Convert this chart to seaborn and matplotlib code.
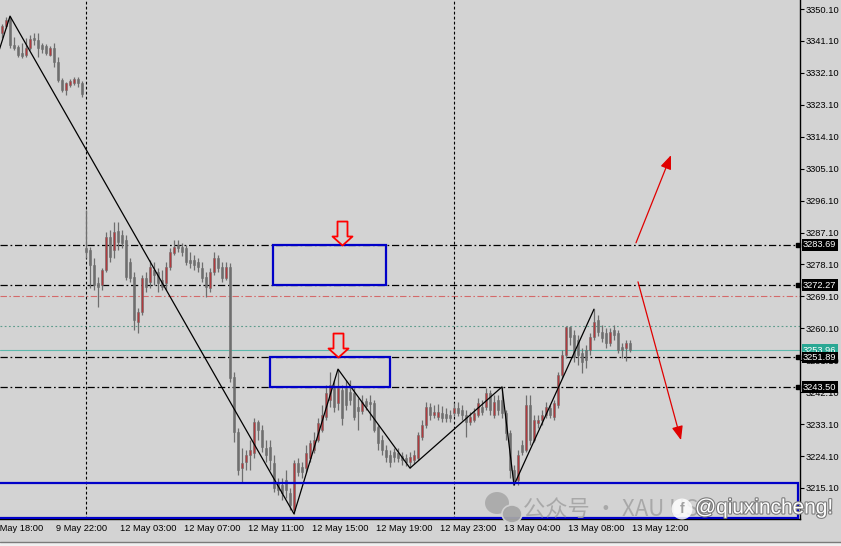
import numpy as np
import pandas as pd
import seaborn as sns
import matplotlib.pyplot as plt
import matplotlib.transforms as mtransforms
import matplotlib.patheffects as pe
from matplotlib.path import Path
from matplotlib.patches import Rectangle, Ellipse
from matplotlib.lines import Line2D

# XAUUSD M15 candles, 9 May 18:45 .. 13 May 12:00 (bars 0-20 are Friday, 21+ after the weekend gap)
opens = [3343.3, 3345.3, 3347.6, 3340.0, 3339.4, 3337.7, 3337.1, 3339.1, 3341.9, 3341.4,
         3340.0, 3339.7, 3337.1, 3339.1, 3335.2, 3330.1, 3327.3, 3328.7, 3329.2, 3330.4,
         3329.2,
         3282.7, 3282.2, 3278.0, 3272.9, 3272.3, 3276.5, 3285.8, 3282.2, 3287.5,
         3286.4, 3285.0, 3278.8, 3274.6, 3261.9, 3264.7, 3274.3, 3273.2, 3276.5, 3276.0,
         3273.7, 3272.9, 3277.4, 3281.3, 3283.5, 3283.0, 3282.7, 3279.4, 3279.4, 3278.8,
         3277.1, 3274.6, 3271.5, 3276.0, 3279.9, 3277.4, 3274.3, 3277.4, 3246.4, 3230.9,
         3220.7, 3222.4, 3224.4, 3225.0, 3233.7, 3231.5, 3226.4, 3226.7, 3222.1, 3216.5,
         3215.9, 3217.4, 3213.7, 3208.9, 3222.1, 3221.0, 3220.7, 3223.6, 3225.8, 3228.6,
         3231.5, 3235.1, 3239.9, 3243.3, 3239.1, 3242.7, 3243.3, 3242.2, 3241.9, 3237.9,
         3236.8, 3239.6, 3239.3, 3239.1, 3232.3, 3228.6, 3225.8, 3224.4, 3225.2, 3225.0,
         3224.1, 3223.6, 3222.4, 3223.0, 3223.6, 3229.5, 3232.9, 3237.9, 3235.7, 3235.1,
         3236.2, 3236.0, 3235.7, 3236.2, 3237.6, 3237.1, 3235.7, 3233.7, 3234.3, 3235.7,
         3237.9, 3237.9, 3241.9, 3235.7, 3239.9, 3239.9, 3236.2, 3230.6, 3220.2, 3217.4,
         3227.2, 3225.8, 3238.5, 3228.6, 3233.4, 3234.3, 3235.7, 3237.6, 3235.1, 3238.5,
         3246.9, 3252.6, 3260.5, 3258.2, 3256.8, 3253.1, 3254.0, 3254.0, 3257.6, 3262.5,
         3259.1, 3258.8, 3256.0, 3259.6, 3258.8, 3254.8, 3254.6, 3256.0]
highs = [3345.9, 3347.9, 3348.1, 3342.2, 3340.0, 3340.5, 3341.9, 3342.8, 3343.3, 3343.3,
         3340.5, 3340.2, 3339.7, 3340.5, 3336.6, 3330.6, 3329.5, 3330.4, 3330.9, 3330.9,
         3329.8,
         3293.5, 3283.0, 3279.9, 3274.6, 3277.1, 3287.3, 3287.8, 3290.1, 3290.1,
         3287.8, 3286.4, 3279.9, 3276.0, 3265.8, 3275.2, 3276.0, 3279.4, 3278.8, 3277.1,
         3276.5, 3278.8, 3282.7, 3285.0, 3285.0, 3284.2, 3283.5, 3281.6, 3280.8, 3279.9,
         3278.8, 3276.0, 3277.1, 3281.6, 3280.8, 3278.8, 3278.8, 3278.5, 3247.8, 3232.0,
         3226.4, 3225.8, 3228.6, 3234.8, 3234.3, 3232.9, 3228.6, 3228.6, 3224.4, 3217.9,
         3217.9, 3220.2, 3215.1, 3223.0, 3223.6, 3222.4, 3227.2, 3228.6, 3230.9, 3234.8,
         3238.4, 3244.1, 3247.8, 3245.5, 3248.6, 3244.1, 3245.5, 3245.5, 3243.3, 3240.5,
         3241.3, 3240.5, 3241.3, 3239.9, 3232.9, 3230.0, 3227.2, 3225.8, 3226.4, 3226.4,
         3225.2, 3224.7, 3225.2, 3225.8, 3230.9, 3234.3, 3239.3, 3239.1, 3238.5, 3238.8,
         3238.2, 3237.6, 3237.1, 3239.1, 3239.3, 3238.5, 3237.1, 3236.5, 3237.6, 3240.5,
         3239.9, 3243.3, 3242.7, 3241.3, 3241.3, 3243.6, 3237.1, 3231.5, 3221.6, 3225.8,
         3228.6, 3241.3, 3241.3, 3235.7, 3235.7, 3237.1, 3239.3, 3238.5, 3239.9, 3247.8,
         3254.0, 3260.8, 3260.8, 3259.6, 3258.2, 3254.6, 3255.4, 3258.8, 3265.5, 3263.9,
         3261.0, 3260.2, 3260.2, 3261.0, 3259.6, 3255.9, 3256.8, 3256.8]
lows = [3341.9, 3344.7, 3339.1, 3338.5, 3336.6, 3336.3, 3336.6, 3338.5, 3340.0, 3336.6,
        3337.7, 3337.1, 3336.9, 3333.8, 3329.5, 3326.7, 3325.9, 3328.1, 3328.7, 3328.1,
        3325.3,
        3279.9, 3271.5, 3270.9, 3266.1, 3270.9, 3276.0, 3278.8, 3279.9, 3282.2,
        3282.7, 3273.7, 3273.2, 3259.6, 3258.8, 3263.9, 3270.3, 3271.5, 3272.3, 3270.3,
        3270.9, 3270.9, 3276.5, 3280.8, 3281.6, 3280.5, 3278.0, 3277.1, 3276.5, 3276.0,
        3273.2, 3268.9, 3270.3, 3275.2, 3276.0, 3273.2, 3273.7, 3245.0, 3228.1, 3218.8,
        3216.5, 3220.2, 3220.2, 3223.6, 3228.6, 3225.2, 3222.4, 3220.2, 3214.0, 3213.1,
        3211.7, 3212.3, 3208.9, 3207.8, 3218.5, 3217.9, 3219.6, 3222.4, 3225.0, 3228.1,
        3230.9, 3234.3, 3237.9, 3236.5, 3237.1, 3232.9, 3237.1, 3238.5, 3234.3, 3231.5,
        3235.9, 3237.1, 3234.3, 3230.9, 3225.8, 3224.4, 3222.4, 3221.0, 3222.4, 3222.4,
        3221.6, 3221.3, 3220.7, 3221.9, 3223.0, 3228.6, 3232.0, 3234.3, 3234.8, 3234.3,
        3233.7, 3233.7, 3233.7, 3235.4, 3235.4, 3234.3, 3229.5, 3232.9, 3233.7, 3235.1,
        3235.7, 3237.1, 3235.7, 3234.8, 3235.7, 3234.8, 3228.6, 3217.9, 3215.9, 3215.9,
        3224.4, 3225.2, 3227.2, 3228.1, 3232.0, 3232.9, 3234.8, 3234.8, 3234.3, 3237.6,
        3246.1, 3251.7, 3255.4, 3250.6, 3249.8, 3247.5, 3248.9, 3252.6, 3256.8, 3257.9,
        3256.2, 3254.6, 3255.1, 3256.8, 3253.1, 3251.7, 3250.9, 3253.4]
closes = [3345.3, 3347.0, 3340.0, 3339.1, 3337.1, 3336.9, 3339.1, 3341.6, 3341.4, 3339.1,
          3338.8, 3337.7, 3339.1, 3335.2, 3330.1, 3327.3, 3329.2, 3329.8, 3330.4, 3329.2,
          3326.1,
          3281.6, 3278.0, 3272.3, 3271.8, 3276.5, 3285.8, 3280.2, 3287.3, 3284.4,
          3284.2, 3274.6, 3274.3, 3262.5, 3264.7, 3274.3, 3271.8, 3277.4, 3275.2, 3272.9,
          3271.8, 3277.4, 3281.6, 3283.0, 3282.7, 3281.6, 3278.8, 3278.5, 3278.0, 3277.4,
          3274.3, 3271.8, 3276.0, 3279.9, 3277.1, 3274.3, 3277.4, 3246.1, 3230.9, 3220.2,
          3222.1, 3224.4, 3225.8, 3233.7, 3231.5, 3226.7, 3224.4, 3223.0, 3215.1, 3214.5,
          3213.7, 3214.5, 3210.3, 3222.1, 3219.6, 3219.6, 3225.0, 3227.8, 3228.6, 3233.4,
          3235.7, 3241.9, 3244.1, 3237.9, 3243.3, 3234.8, 3238.5, 3239.9, 3235.1, 3236.8,
          3239.3, 3238.2, 3238.8, 3231.5, 3227.8, 3225.8, 3223.9, 3222.4, 3223.9, 3223.6,
          3223.0, 3222.4, 3223.9, 3224.4, 3230.0, 3232.9, 3237.9, 3235.7, 3236.5, 3236.5,
          3234.8, 3234.8, 3234.8, 3237.6, 3236.2, 3235.7, 3233.7, 3235.1, 3236.2, 3239.1,
          3236.5, 3241.9, 3237.1, 3239.3, 3237.1, 3236.2, 3230.6, 3220.2, 3216.8, 3224.4,
          3225.2, 3238.5, 3228.6, 3234.3, 3234.3, 3235.7, 3237.9, 3235.7, 3239.1, 3246.9,
          3252.6, 3260.5, 3257.6, 3252.0, 3252.6, 3250.6, 3251.2, 3257.6, 3261.9, 3259.1,
          3257.4, 3256.0, 3259.1, 3258.2, 3254.0, 3254.0, 3256.0, 3253.96]

# time axis
tick_bars = [-3, 13, 29, 45, 61, 77, 93, 109, 125, 141, 157]
tick_labels = ['9 May 18:00', '9 May 22:00', '12 May 03:00', '12 May 07:00', '12 May 11:00',
               '12 May 15:00', '12 May 19:00', '12 May 23:00', '13 May 04:00', '13 May 08:00',
               '13 May 12:00']
separator_bars = [21, 113]

price_ticks = [3350.10, 3341.10, 3332.10, 3323.10, 3314.10, 3305.10, 3296.10, 3287.10,
               3278.10, 3269.10, 3260.10, 3251.10, 3242.10, 3233.10, 3224.10, 3215.10]

# drawn objects
level_prices = [3283.69, 3272.27, 3251.89, 3243.50]
red_level = 3269.3
green_level = 3260.8
bid_price = 3253.96

zigzag_bars = [-2, 2, 73, 84, 102, 125, 128, 148]
zigzag_prices = [3333.9, highs[2], lows[73], highs[84], lows[102], highs[125], lows[128], highs[148]]

zones = [(67.75, 96.0, 3272.27, 3283.69), (67.0, 97.0, 3243.50, 3251.89)]
support_zone = (-10.0, 199.0, 3206.6, 3216.5)

signal_bars = [85, 84]
signal_prices = [3283.69, 3251.89]

projections = [((158.5, 3284.2), (167.25, 3308.9)), ((159.0, 3273.2), (169.75, 3228.6))]

bars = pd.DataFrame({'open': opens, 'high': highs, 'low': lows, 'close': closes})
bars['bar'] = np.arange(len(bars))

bg = '#d3d3d3'
sns.set_style('white', rc={'axes.facecolor': bg, 'figure.facecolor': bg})
plt.rcParams['font.family'] = ['Liberation Sans', 'DejaVu Sans']

fig = plt.figure(figsize=(8.41, 5.46), dpi=100)
ax = fig.add_axes([0, 27 / 546, 799.5 / 841, 519 / 546])
ax.set_xlim(-0.5, 199.375)
ax.set_ylim(3206.36, 3352.64)

dashdot = (0, (5.8, 2.2, 1.4, 2.2))
for p in level_prices:
    ax.axhline(p, color='black', lw=0.9, ls=dashdot, zorder=2)
ax.axhline(red_level, color='#d46a6a', lw=0.8, ls=dashdot, zorder=2)
ax.axhline(green_level, color='#5d9c8c', lw=0.8, ls=(0, (1.6, 2.2)), zorder=2)
ax.axhline(bid_price, color='#5cb8ac', lw=0.8, zorder=2)
for b in separator_bars:
    ax.axvline(b, color='black', lw=0.8, ls=(0, (2.5, 2.0)), zorder=2)

# candles
wick = '#6e6e6e'
up = bars['close'] >= bars['open']
body_lo = np.minimum(bars['open'], bars['close'])
body_h = np.maximum((bars['close'] - bars['open']).abs(), 0.3)
ax.vlines(bars['bar'], bars['low'], bars['high'], color=wick, lw=0.9, zorder=3)
ax.bar(bars['bar'], body_h, bottom=body_lo, width=0.72,
       color=np.where(up, '#b23a3e', wick), edgecolor=wick, linewidth=0.4, zorder=4)

# zigzag
sns.lineplot(x=zigzag_bars, y=zigzag_prices, sort=False, estimator=None,
             color='black', lw=0.9, ax=ax, zorder=5)

blue = '#0000c8'
for x0, x1, p0, p1 in zones:
    ax.add_patch(Rectangle((x0, p0), x1 - x0, p1 - p0, fill=False, ec=blue, lw=1.6, zorder=6))
x0, x1, p0, p1 = support_zone
ax.add_patch(Rectangle((x0, p0), x1 - x0, p1 - p0, fill=False, ec=blue, lw=1.6, zorder=6))

# hollow down arrows, tip at the anchor
arrow_path = Path([(0, 0), (10, 9), (5, 9), (5, 24), (-5, 24), (-5, 9), (-10, 9), (0, 0)],
                  [Path.MOVETO] + [Path.LINETO] * 6 + [Path.CLOSEPOLY])
ax.plot(signal_bars, signal_prices, ls='none', marker=arrow_path, ms=34.5,
        mfc=bg, mec='#ff0000', mew=1.3, zorder=7)

for start, end in projections:
    ax.annotate('', xy=end, xytext=start,
                arrowprops=dict(arrowstyle='-|>,head_length=0.7,head_width=0.28',
                                color='#e00000', lw=0.9, shrinkA=0, shrinkB=0,
                                mutation_scale=12), zorder=7)

# axes frame and ticks
for s in ['top', 'left']:
    ax.spines[s].set_visible(False)
for s in ['right', 'bottom']:
    ax.spines[s].set_color('black')
    ax.spines[s].set_linewidth(1.0)
ax.yaxis.tick_right()
ax.set_yticks(price_ticks)
ax.set_yticklabels([f'{p:.2f}' for p in price_ticks])
ax.tick_params(axis='y', length=3, width=0.8, pad=1.2, labelsize=6.7, colors='black')
ax.set_xticks(tick_bars[1:])
ax.set_xticklabels([])
ax.tick_params(axis='x', length=3, width=0.8, colors='black')

xtrans = mtransforms.blended_transform_factory(ax.transData, ax.transAxes)
for b, lab in zip(tick_bars, tick_labels):
    ax.text(b + 0.5, -0.0175, lab, transform=xtrans, ha='left', va='center',
            fontsize=6.7, color='black', clip_on=False)

ytrans = mtransforms.blended_transform_factory(ax.transAxes, ax.transData)
ax.text(1.0044, bid_price, f'{bid_price:.2f}', transform=ytrans, ha='left', va='center',
        fontsize=6.7, color='white', clip_on=False, zorder=8,
        bbox=dict(boxstyle='square,pad=0.15', fc='#2aa894', ec='none'))
for p in level_prices:
    ax.plot([0.9975], [p], transform=ytrans, marker='s', ms=3.2, color='black',
            clip_on=False, zorder=8)
    ax.text(1.0044, p, f'{p:.2f}', transform=ytrans, ha='left', va='center',
            fontsize=6.7, color='white', clip_on=False, zorder=9,
            bbox=dict(boxstyle='square,pad=0.15', fc='black', ec='none'))

# watermark
fig.add_artist(Ellipse((497 / 841, 43 / 546), 24 / 841, 22 / 546, transform=fig.transFigure,
                       fc='#a6a6a6', ec='none', alpha=0.85, zorder=10))
fig.add_artist(Ellipse((512 / 841, 32 / 546), 20 / 841, 18 / 546, transform=fig.transFigure,
                       fc='#a6a6a6', ec=bg, lw=1.2, alpha=0.95, zorder=10))
fig.text(523 / 841, 37 / 546, '公众号 · XAU USD', fontsize=16, color='#a4a4a4', alpha=0.9,
         ha='left', va='center', family=['Noto Sans CJK SC', 'DejaVu Sans'], zorder=10)
fig.text(682 / 841, 37 / 546, 'f', fontsize=10, color='#a0a0a0', fontweight='bold',
         ha='center', va='center', zorder=11,
         bbox=dict(boxstyle='circle,pad=0.25', fc='white', ec='none', alpha=0.85))
fig.text(695 / 841, 38 / 546, '@qiuxincheng!', fontsize=15, color='white', ha='left',
         va='center', zorder=12,
         path_effects=[pe.withStroke(linewidth=1.6, foreground='#7a7a7a')])

# terminal window edge
fig.add_artist(Line2D([0, 1], [4.5 / 546, 4.5 / 546], transform=fig.transFigure,
                      color='#7a7a7a', lw=1))
fig.add_artist(Rectangle((0, 0), 1, 4 / 546, transform=fig.transFigure,
                         fc='#f0f0f0', ec='none'))

fig.savefig('out.png', dpi=100, facecolor=bg)
